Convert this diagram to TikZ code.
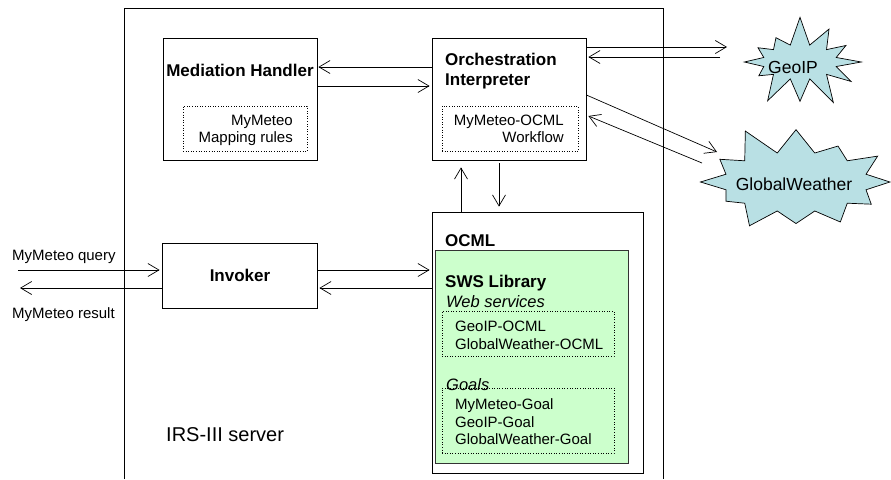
\documentclass[tikz,border=0pt]{standalone}
\usepackage{fontspec}
\setmainfont{Liberation Sans}
\usepackage{tikz}
\usetikzlibrary{arrows.meta,calc,shapes.symbols}

\definecolor{swsgreen}{HTML}{CCFFCC}
\definecolor{burstblue}{HTML}{B9E0E4}

\tikzset{
  box/.style={draw, line width=0.8pt, inner sep=0pt},
  dotbox/.style={draw, dotted, line width=0.6pt, inner sep=0pt},
  ttl/.style={font=\bfseries\fontsize{17}{20}\selectfont, inner sep=0pt},
  txt/.style={font=\fontsize{15}{17.5}\selectfont, inner sep=0pt},
  itl/.style={font=\itshape\fontsize{16.5}{19}\selectfont, inner sep=0pt},
  arr/.style={-{Straight Barb[length=11pt,width=13pt]}, line width=0.7pt},
  burst/.style={starburst, draw, fill=burstblue, line width=0.7pt, inner sep=0pt,
    starburst points=12, starburst point height=30pt}
}

\begin{document}
\begin{tikzpicture}[x=1pt, y=-1pt]
  \useasboundingbox (0,0) rectangle (891,479);

  % server frame
  \draw[line width=0.8pt] (124,479) -- (124,8) -- (663,8) -- (663,479);
  \node[txt, font=\fontsize{20}{24}\selectfont, anchor=base west] (srv) at (166,441.7) {IRS-III server};

  % mediation handler
  \node[box, minimum width=154pt, minimum height=122pt] (mh) at (240,99) {};
  \node[ttl, anchor=base] (mhttl) at (240,76) {Mediation Handler};
  \node[dotbox, minimum width=124pt, minimum height=45pt] (mhrules) at (245,128.5) {};
  \node[txt, align=right, anchor=base east] (mhtxt) at (293,142.5) {MyMeteo\\Mapping rules};

  % orchestration interpreter
  \node[box, minimum width=154pt, minimum height=122pt] (oi) at (509,99) {};
  \node[ttl, align=left, anchor=base west] (oittl) at (445,85) {Orchestration\\Interpreter};
  \node[dotbox, minimum width=136pt, minimum height=45pt] (oiflow) at (510,128.5) {};
  \node[txt, align=right, anchor=base east] (oitxt) at (564,142.5) {MyMeteo-OCML\\Workflow};

  % invoker
  \node[box, minimum width=155pt, minimum height=65pt] (inv) at (239.5,275.5) {};
  \node[ttl, anchor=base] (invttl) at (240,281.7) {Invoker};

  % OCML and SWS library
  \node[box, minimum width=211pt, minimum height=261pt] (ocml) at (537.5,342.5) {};
  \node[ttl, anchor=base west] (ocmlttl) at (445,246) {OCML};
  \node[draw=black!80, fill=swsgreen, line width=0.8pt, inner sep=0pt,
    minimum width=193pt, minimum height=213pt] (sws) at (531.5,356.5) {};
  \node[ttl, anchor=base west] (swsttl) at (445,287.3) {SWS Library};
  \node[itl, anchor=base west] (wsttl) at (446,307.3) {Web services};
  \node[dotbox, minimum width=172pt, minimum height=45pt] (wsbox) at (528,333.5) {};
  \node[txt, align=left, anchor=base west] (wstxt) at (455,349) {GeoIP-OCML\\GlobalWeather-OCML};
  \node[dotbox, minimum width=172pt, minimum height=65pt] (goalbox) at (528,420.5) {};
  \node[itl, anchor=base west] (goalttl) at (446,390) {Goals};
  \node[txt, align=left, anchor=base west] (goaltxt) at (455,444.5) {MyMeteo-Goal\\GeoIP-Goal\\GlobalWeather-Goal};

  % external services
  \node[burst, random starburst=7, minimum width=135pt, minimum height=95pt] (geoip) at (800,62) {};
  \node[txt, font=\fontsize{17.5}{20}\selectfont, anchor=base] (geolbl) at (793,73) {GeoIP};
  \node[burst, random starburst=11, minimum width=205pt, minimum height=120pt] (gw) at (796,182) {};
  \node[txt, font=\fontsize{17.5}{20}\selectfont, anchor=base] (gwlbl) at (794,190) {GlobalWeather};

  \coordinate (qin) at (18,270);
  \coordinate (rout) at (20,288);
  \coordinate (geoto) at (727,47);
  \coordinate (geofrom) at (720,57);
  \coordinate (gwto) at (717,152);
  \coordinate (gwfrom) at (702,163);

  % query and result
  \node[txt, anchor=base west] (qlbl) at (12,260) {MyMeteo query};
  \node[txt, anchor=base west] (rlbl) at (12,318) {MyMeteo result};
  \draw[arr] (qin) -- ($(inv.west |- 0,270)+(-2,0)$);
  \draw[arr] (inv.west |- 0,288) -- (rout);

  % connectors
  \draw[arr] (oi.west |- 0,67) -- ($(mh.east |- 0,67)+(1,0)$);
  \draw[arr] (mh.east |- 0,86) -- ($(oi.west |- 0,86)+(-2,0)$);
  \draw[arr] (oi.east |- 0,47) -- (geoto);
  \draw[arr] (geofrom) -- ($(oi.east |- 0,57)+(2,0)$);
  \draw[arr] (oi.east |- 0,95) -- (gwto);
  \draw[arr] (gwfrom) -- ($(oi.east |- 0,116)+(2,0)$);
  \draw[arr] (ocml.north -| 461,0) -- ($(oi.south -| 461,0)+(0,7)$);
  \draw[arr] ($(oi.south -| 499,0)+(0,3)$) -- ($(ocml.north -| 499,0)+(0,-5)$);
  \draw[arr] (inv.east |- 0,270) -- ($(ocml.west |- 0,270)+(-2,0)$);
  \draw[arr] (ocml.west |- 0,288) -- ($(inv.east |- 0,288)+(2,0)$);
\end{tikzpicture}
\end{document}
